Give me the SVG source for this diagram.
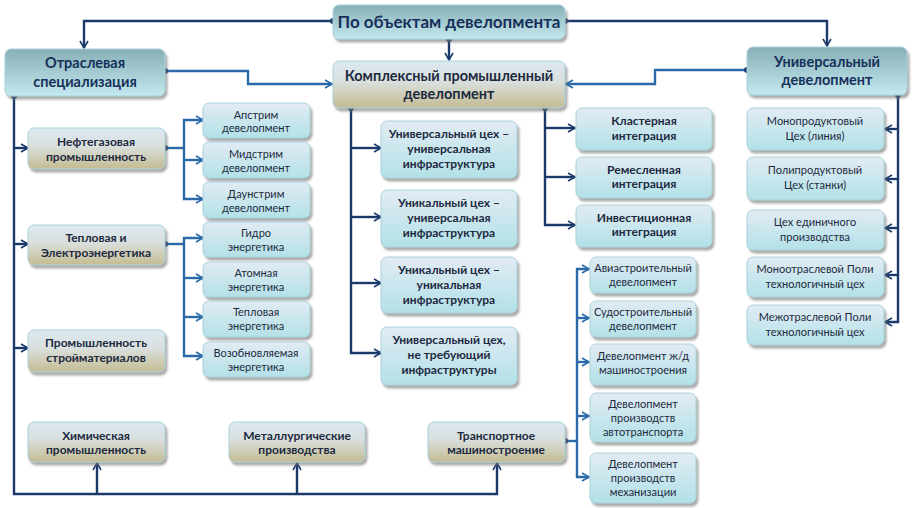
<svg xmlns="http://www.w3.org/2000/svg" width="913" height="508" viewBox="0 0 913 508">
<defs>
<linearGradient id="gSub" x1="0" y1="0" x2="0" y2="1"><stop offset="0" stop-color="#e2ebf4"/><stop offset="1" stop-color="#b2e1e7"/></linearGradient>
<linearGradient id="gCat" x1="0" y1="0" x2="0" y2="1"><stop offset="0" stop-color="#dce9f2"/><stop offset="0.45" stop-color="#d9dfdc"/><stop offset="1" stop-color="#c4bb92"/></linearGradient>
<linearGradient id="gHead" x1="0" y1="0" x2="0" y2="1"><stop offset="0" stop-color="#87afb6"/><stop offset="1" stop-color="#c4e9ef"/></linearGradient>
<filter id="sh" x="-10%" y="-10%" width="125%" height="140%"><feDropShadow dx="2" dy="3" stdDeviation="1.3" flood-color="#707070" flood-opacity="0.6"/></filter>
<marker id="ar" markerUnits="userSpaceOnUse" markerWidth="10" markerHeight="10" refX="8" refY="5" orient="auto"><path d="M1,1 L8,5 L1,9" fill="none" stroke="#2a6aa8" stroke-width="1.6"/></marker>
<marker id="ard" markerUnits="userSpaceOnUse" markerWidth="10" markerHeight="10" refX="8" refY="5" orient="auto"><path d="M1,1 L8,5 L1,9" fill="none" stroke="#1b3a6b" stroke-width="1.6"/></marker>
<marker id="dot" markerUnits="userSpaceOnUse" markerWidth="8" markerHeight="8" refX="4" refY="4"><circle cx="4" cy="4" r="3" fill="#1b3a6b"/></marker>
</defs>
<style>
.sub rect{fill:url(#gSub);stroke:#a9d2da;stroke-width:1;filter:url(#sh)}
.cat rect{fill:url(#gCat);stroke:#a9d2da;stroke-width:1;filter:url(#sh)}
.head rect{fill:url(#gHead);stroke:#a9d2da;stroke-width:1;filter:url(#sh)}
text{font-family:Lato,"Open Sans","Liberation Sans",sans-serif;text-anchor:middle;fill:#1d2a40}
.sub text{font-size:11px}
.cat text{font-size:12px;font-weight:bold}
.head text{font-size:14.5px;font-weight:bold;fill:#16305a}
.c path{fill:none;stroke-width:2.4}
.n{stroke:#1b3a6b}
.b{stroke:#2a6aa8}
</style>
<g class="c" id="connectors">
<path class="n" d="M333,21 H84 V48" marker-start="url(#dot)" marker-end="url(#ard)"/>
<path class="n" d="M565,21 H827 V46" marker-start="url(#dot)" marker-end="url(#ard)"/>
<path class="n" d="M449,39 V60" marker-start="url(#dot)" marker-end="url(#ard)"/>
<path class="b" d="M165,71 H248 V84 H332" marker-start="url(#dot)" marker-end="url(#ar)"/>
<path class="b" d="M747,70 H655 V84 H566" marker-start="url(#dot)" marker-end="url(#ar)"/>
<path class="n" d="M14,96 V494 H497 V463" marker-start="url(#dot)" marker-end="url(#ard)"/>
<path class="n" d="M14,148 H28" marker-end="url(#ard)"/>
<path class="n" d="M14,244 H28" marker-end="url(#ard)"/>
<path class="n" d="M14,348 H28" marker-end="url(#ard)"/>
<path class="n" d="M97,494 V463" marker-end="url(#ard)"/>
<path class="n" d="M297,494 V463" marker-end="url(#ard)"/>
<path class="b" d="M165,148 H184" marker-start="url(#dot)"/>
<path class="b" d="M184,148 V120 H203" marker-end="url(#ar)"/>
<path class="b" d="M184,148 V199 H203" marker-end="url(#ar)"/>
<path class="b" d="M184,160 H203" marker-end="url(#ar)"/>
<path class="b" d="M165,244 H184" marker-start="url(#dot)"/>
<path class="b" d="M184,244 V238 H203" marker-end="url(#ar)"/>
<path class="b" d="M184,244 V356 H203" marker-end="url(#ar)"/>
<path class="b" d="M184,278 H203" marker-end="url(#ar)"/>
<path class="b" d="M184,317 H203" marker-end="url(#ar)"/>
<path class="n" d="M351,108 V353 H381" marker-start="url(#dot)" marker-end="url(#ard)"/>
<path class="n" d="M351,148 H381" marker-end="url(#ard)"/>
<path class="n" d="M351,217 H381" marker-end="url(#ard)"/>
<path class="n" d="M351,283 H381" marker-end="url(#ard)"/>
<path class="n" d="M545,108 V225 H575" marker-start="url(#dot)" marker-end="url(#ard)"/>
<path class="n" d="M545,128 H575" marker-end="url(#ard)"/>
<path class="n" d="M545,177 H575" marker-end="url(#ard)"/>
<path class="b" d="M565,441 H577" marker-start="url(#dot)"/>
<path class="b" d="M577,441 V269 H589" marker-end="url(#ar)"/>
<path class="b" d="M577,441 V477 H589" marker-end="url(#ar)"/>
<path class="b" d="M577,318 H589" marker-end="url(#ar)"/>
<path class="b" d="M577,362 H589" marker-end="url(#ar)"/>
<path class="b" d="M577,416 H589" marker-end="url(#ar)"/>
<path class="n" d="M898,95 V322 H885" marker-start="url(#dot)" marker-end="url(#ard)"/>
<path class="n" d="M898,129 H885" marker-end="url(#ard)"/>
<path class="n" d="M898,179 H885" marker-end="url(#ard)"/>
<path class="n" d="M898,228 H885" marker-end="url(#ard)"/>
<path class="n" d="M898,275 H885" marker-end="url(#ard)"/>
</g>
<g id="top" class="head"><rect x="333" y="5" width="232" height="34" rx="6"/><text x="449" y="28" style="font-size:17px">По объектам девелопмента</text></g>
<g id="otrasl" class="head"><rect x="5" y="49" width="160" height="47" rx="6"/><text x="85" y="68">Отраслевая</text><text x="85" y="87">специализация</text></g>
<g id="komplex" class="cat"><rect x="333" y="61" width="232" height="47" rx="6"/><text x="449" y="81" style="font-size:14.5px">Комплексный промышленный</text><text x="449" y="99" style="font-size:14.5px">девелопмент</text></g>
<g id="univ" class="head"><rect x="747" y="47" width="160" height="48" rx="6"/><text x="827" y="67">Универсальный</text><text x="827" y="85">девелопмент</text></g>
<g id="neft" class="cat"><rect x="28" y="128" width="137" height="41" rx="6"/><text x="96" y="146">Нефтегазовая</text><text x="96" y="161">промышленность</text></g>
<g id="teplo" class="cat"><rect x="28" y="225" width="137" height="40" rx="6"/><text x="96" y="242">Тепловая и</text><text x="96" y="257">Электроэнергетика</text></g>
<g id="stroy" class="cat"><rect x="28" y="330" width="137" height="42" rx="6"/><text x="96" y="347">Промышленность</text><text x="96" y="362">стройматериалов</text></g>
<g id="chem" class="cat"><rect x="28" y="422" width="137" height="40" rx="6"/><text x="96" y="440">Химическая</text><text x="96" y="454">промышленность</text></g>
<g id="metal" class="cat"><rect x="229" y="422" width="136" height="40" rx="6"/><text x="297" y="440">Металлургические</text><text x="297" y="454">производства</text></g>
<g id="transp" class="cat"><rect x="428" y="422" width="137" height="40" rx="6"/><text x="496" y="440">Транспортное</text><text x="496" y="454">машиностроение</text></g>
<g id="upstream" class="sub"><rect x="203" y="103" width="107" height="35" rx="6"/><text x="256" y="119">Апстрим</text><text x="256" y="132">девелопмент</text></g>
<g id="midstream" class="sub"><rect x="203" y="142" width="107" height="36" rx="6"/><text x="256" y="158">Мидстрим</text><text x="256" y="172">девелопмент</text></g>
<g id="downstream" class="sub"><rect x="203" y="182" width="107" height="36" rx="6"/><text x="256" y="198">Даунстрим</text><text x="256" y="212">девелопмент</text></g>
<g id="gidro" class="sub"><rect x="203" y="222" width="107" height="35" rx="6"/><text x="256" y="237">Гидро</text><text x="256" y="251">энергетика</text></g>
<g id="atom" class="sub"><rect x="203" y="262" width="107" height="35" rx="6"/><text x="256" y="277">Атомная</text><text x="256" y="291">энергетика</text></g>
<g id="teplen" class="sub"><rect x="203" y="301" width="107" height="36" rx="6"/><text x="256" y="316">Тепловая</text><text x="256" y="330">энергетика</text></g>
<g id="vozob" class="sub"><rect x="203" y="342" width="107" height="35" rx="6"/><text x="256" y="357">Возобновляемая</text><text x="256" y="371">энергетика</text></g>
<g id="m1" class="cat"><rect x="381" y="121" width="136" height="57" rx="6" style="fill:url(#gSub)"/><text x="449" y="138">Универсальный цех –</text><text x="449" y="153">универсальная</text><text x="449" y="168">инфраструктура</text></g>
<g id="m2" class="cat"><rect x="381" y="190" width="136" height="57" rx="6" style="fill:url(#gSub)"/><text x="449" y="207">Уникальный цех –</text><text x="449" y="222">универсальная</text><text x="449" y="237">инфраструктура</text></g>
<g id="m3" class="cat"><rect x="381" y="257" width="136" height="56" rx="6" style="fill:url(#gSub)"/><text x="449" y="274">Уникальный цех –</text><text x="449" y="289">уникальная</text><text x="449" y="304">инфраструктура</text></g>
<g id="m4" class="cat"><rect x="381" y="327" width="136" height="58" rx="6" style="fill:url(#gSub)"/><text x="449" y="344">Универсальный цех,</text><text x="449" y="359">не требующий</text><text x="449" y="374">инфраструктуры</text></g>
<g id="klast" class="cat"><rect x="576" y="108" width="136" height="42" rx="6" style="fill:url(#gSub)"/><text x="644" y="125">Кластерная</text><text x="644" y="140">интеграция</text></g>
<g id="remes" class="cat"><rect x="576" y="157" width="136" height="41" rx="6" style="fill:url(#gSub)"/><text x="644" y="174">Ремесленная</text><text x="644" y="188">интеграция</text></g>
<g id="invest" class="cat"><rect x="576" y="205" width="136" height="42" rx="6" style="fill:url(#gSub)"/><text x="644" y="222">Инвестиционная</text><text x="644" y="236">интеграция</text></g>
<g id="avia" class="sub"><rect x="590" y="257" width="106" height="36" rx="6"/><text x="643" y="272">Авиастроительный</text><text x="643" y="286">девелопмент</text></g>
<g id="sudo" class="sub"><rect x="590" y="301" width="106" height="36" rx="6"/><text x="643" y="316">Судостроительный</text><text x="643" y="330">девелопмент</text></g>
<g id="zhd" class="sub"><rect x="590" y="344" width="106" height="41" rx="6"/><text x="643" y="360">Девелопмент ж/д</text><text x="643" y="374">машиностроения</text></g>
<g id="auto" class="sub"><rect x="590" y="393" width="106" height="49" rx="6"/><text x="643" y="408">Девелопмент</text><text x="643" y="422">производств</text><text x="643" y="436">автотранспорта</text></g>
<g id="mech" class="sub"><rect x="590" y="453" width="106" height="50" rx="6"/><text x="643" y="468">Девелопмент</text><text x="643" y="482">производств</text><text x="643" y="496">механизации</text></g>
<g id="u1" class="sub"><rect x="747" y="108" width="137" height="42" rx="6"/><text x="815" y="125">Монопродуктовый</text><text x="815" y="140">Цех (линия)</text></g>
<g id="u2" class="sub"><rect x="747" y="157" width="137" height="43" rx="6"/><text x="815" y="174">Полипродуктовый</text><text x="815" y="189">Цех (станки)</text></g>
<g id="u3" class="sub"><rect x="747" y="210" width="137" height="40" rx="6"/><text x="815" y="226">Цех единичного</text><text x="815" y="241">производства</text></g>
<g id="u4" class="sub"><rect x="747" y="257" width="137" height="40" rx="6"/><text x="815" y="273">Моноотраслевой Поли</text><text x="815" y="288">технологичный цех</text></g>
<g id="u5" class="sub"><rect x="747" y="305" width="137" height="40" rx="6"/><text x="815" y="321">Межотраслевой Поли</text><text x="815" y="336">технологичный цех</text></g>
</svg>
